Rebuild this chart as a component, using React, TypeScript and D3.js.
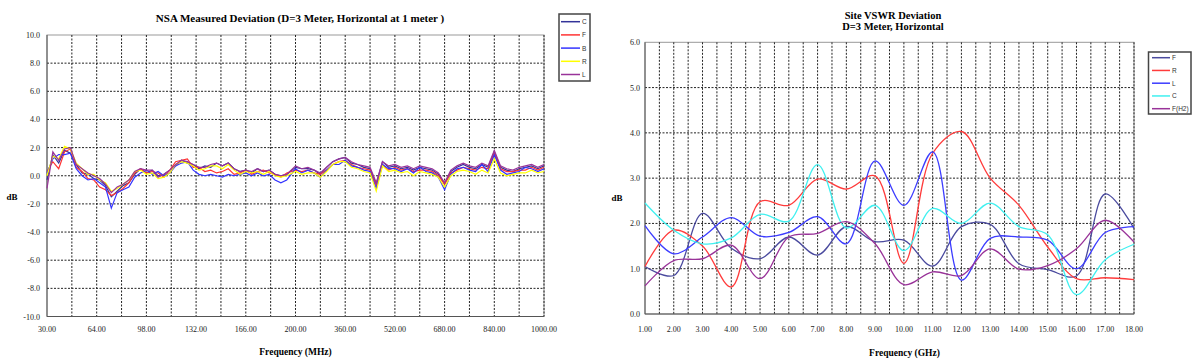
import React from "react";
import * as d3 from "d3";

// ---------- Left chart data (NSA Measured Deviation) ----------
const nsaFreq = [
  30, 34, 38, 42, 46, 50, 54, 58, 62, 66, 70, 74, 78, 82, 86, 90, 94, 98, 102, 106, 110,
  114, 118, 122, 126, 130, 134, 138, 142, 146, 150, 154, 158, 162, 166, 170, 174, 178, 182,
  186, 190, 194,
  200, 220, 240, 260, 280, 300, 320, 340, 360, 380, 400, 420, 440, 460, 480, 500, 520, 540,
  560, 580, 600, 620, 640, 660, 680, 700, 720, 740, 760, 780, 800, 820, 840, 860, 880, 900,
  920, 940, 960, 980, 1000,
];
const nsaC = [
  -0.3, 1.5, 0.9, 1.8, 1.6, 0.8, 0.2, 0.1, -0.2, -0.3, -0.7, -1.5, -1.1, -0.7, -0.5, 0.1, 0.5, 0.2, 0.4, 0.0, 0.1,
  0.4, 0.7, 1.1, 0.9, 0.8, 0.5, 0.7, 0.6, 0.9, 0.7, 0.9, 0.5, 0.3, 0.4, 0.2, 0.5, 0.3, 0.4, 0.1, 0.0, 0.1,
  0.6, 0.5, 0.5, 0.4, 0.1, 0.6, 1.0, 1.2, 1.3, 0.9, 0.8, 0.6, 0.5, -0.6, 1.0, 0.6, 0.7, 0.5, 0.6, 0.4,
  0.6, 0.5, 0.4, 0.1, -0.6, 0.3, 0.6, 0.8, 0.6, 0.5, 0.8, 0.6, 1.7, 0.6, 0.4, 0.3, 0.5, 0.6, 0.7, 0.5, 0.7,
];
const nsaF = [
  0.3, 1.0, 0.5, 1.7, 1.9, 0.6, 0.3, -0.2, -0.3, -0.8, -1.0, -1.4, -1.2, -0.9, -0.5, 0.2, 0.5, 0.2, 0.3, 0.2, -0.1,
  0.4, 1.0, 1.1, 1.2, 0.6, 0.6, 0.3, 0.4, 0.2, 0.3, 0.5, 0.1, 0.2, 0.4, 0.1, 0.3, 0.4, 0.2, 0.1, -0.1, 0.2,
  0.4, 0.3, 0.4, 0.2, 0.1, 0.4, 0.8, 1.0, 1.1, 0.8, 0.6, 0.5, 0.4, -0.7, 0.8, 0.4, 0.6, 0.4, 0.5, 0.3,
  0.4, 0.4, 0.3, 0.0, -0.6, 0.2, 0.4, 0.6, 0.5, 0.4, 0.6, 0.5, 1.6, 0.5, 0.3, 0.3, 0.4, 0.4, 0.6, 0.4, 0.6,
];
const nsaB = [
  0.2, 1.2, 1.5, 1.5, 1.6, 0.5, 0.0, -0.3, -0.2, -0.5, -0.8, -2.3, -1.2, -1.0, -0.8, -0.1, 0.2, 0.4, 0.1, 0.3, 0.0,
  0.2, 0.7, 0.9, 1.0, 0.4, 0.1, 0.0, 0.1, 0.0, -0.1, 0.1, 0.0, 0.1, 0.2, 0.0, 0.2, 0.0, 0.1, -0.3, -0.5, -0.3,
  0.5, 0.2, 0.4, 0.2, -0.1, 0.4, 0.8, 0.8, 1.1, 0.7, 0.6, 0.4, 0.3, -0.9, 0.8, 0.5, 0.5, 0.3, 0.5, 0.2,
  0.6, 0.3, 0.2, -0.1, -1.0, 0.1, 0.5, 0.6, 0.4, 0.3, 0.8, 0.3, 1.5, 0.4, 0.1, 0.2, 0.3, 0.6, 0.5, 0.3, 0.5,
];
const nsaR = [
  0.0, 1.4, 1.2, 2.1, 1.9, 0.9, 0.5, 0.1, 0.1, -0.3, -0.5, -1.1, -0.9, -0.6, -0.3, 0.3, 0.4, 0.1, 0.2, -0.2, -0.1,
  0.2, 0.8, 1.0, 0.9, 0.7, 0.4, 0.5, 0.7, 0.7, 0.5, 0.8, 0.4, 0.1, 0.3, 0.2, 0.3, 0.1, 0.3, 0.0, -0.1, 0.0,
  0.3, 0.1, 0.2, 0.2, -0.1, 0.3, 0.8, 1.0, 1.0, 0.6, 0.5, 0.3, 0.2, -1.1, 0.7, 0.3, 0.4, 0.2, 0.3, 0.0,
  0.3, 0.2, 0.1, -0.1, -0.8, 0.0, 0.3, 0.4, 0.3, 0.1, 0.4, 0.2, 1.2, 0.2, 0.0, 0.1, 0.2, 0.2, 0.4, 0.2, 0.3,
];
const nsaL = [
  -0.9, 1.7, 1.1, 1.9, 2.0, 0.8, 0.5, 0.2, 0.0, -0.2, -0.6, -1.2, -0.8, -0.6, -0.3, 0.3, 0.5, 0.4, 0.4, -0.1, 0.1,
  0.4, 0.8, 1.1, 1.0, 0.8, 0.6, 0.6, 0.8, 0.9, 0.7, 0.9, 0.5, 0.3, 0.4, 0.3, 0.5, 0.3, 0.4, 0.1, 0.0, 0.1,
  0.7, 0.5, 0.6, 0.4, 0.2, 0.6, 1.0, 1.2, 1.3, 1.0, 0.8, 0.7, 0.6, -0.5, 1.0, 0.7, 0.8, 0.6, 0.7, 0.5,
  0.7, 0.6, 0.5, 0.2, -0.5, 0.4, 0.7, 0.9, 0.7, 0.6, 0.9, 0.7, 1.8, 0.7, 0.5, 0.4, 0.6, 0.7, 0.8, 0.6, 0.8,
];
const nsaNames = ["C", "F", "B", "R", "L"];
const nsaColors = ["#333399", "#ff3333", "#3333ff", "#ffff00", "#993399"];
const nsaXTicks = [30, 64, 98, 132, 166, 200, 360, 520, 680, 840, 1000];
const nsaYTicks = [10, 8, 6, 4, 2, 0, -2, -4, -6, -8, -10];

// ---------- Right chart data (Site VSWR Deviation) ----------
const vswrFreq = [1, 2, 3, 4, 5, 6, 7, 8, 9, 10, 11, 12, 13, 14, 15, 16, 17, 18];
const vswrF = [1.05, 0.85, 2.22, 1.45, 1.22, 1.7, 1.3, 1.93, 1.6, 1.63, 1.06, 1.93, 1.98, 1.11, 0.98, 0.84, 2.65, 1.89];
const vswrR = [1.05, 1.85, 1.5, 0.6, 2.48, 2.4, 2.98, 2.76, 3.05, 1.12, 3.55, 4.03, 3.0, 2.4, 1.48, 0.78, 0.8, 0.76];
const vswrL = [1.95, 1.33, 1.7, 2.13, 1.72, 1.8, 2.15, 1.55, 3.38, 2.4, 3.58, 0.75, 1.67, 1.7, 1.63, 1.0, 1.8, 1.93];
const vswrC = [2.45, 1.85, 1.55, 1.68, 2.2, 2.05, 3.3, 1.9, 2.4, 1.4, 2.33, 2.0, 2.45, 1.93, 1.75, 0.43, 1.2, 1.54];
const vswrH2 = [0.62, 1.18, 1.22, 1.52, 0.78, 1.7, 1.78, 2.04, 1.55, 0.65, 0.93, 0.85, 1.44, 0.99, 1.07, 1.44, 2.07, 1.59];
const vswrNames = ["F", "R", "L", "C", "F(H2)"];
const vswrColors = ["#4a4a9e", "#ff3b3b", "#3c3cff", "#40f0f0", "#993399"];
const vswrXTicks = [1, 2, 3, 4, 5, 6, 7, 8, 9, 10, 11, 12, 13, 14, 15, 16, 17, 18];
const vswrYTicks = [6, 5, 4, 3, 2, 1, 0];

const SERIF = "'Liberation Serif', 'Times New Roman', serif";
const SANS = "'Liberation Sans', Arial, sans-serif";
const GRID = { stroke: "#222", strokeWidth: 1, strokeDasharray: "2,1.5" };

function LeftChart() {
  const x0 = 47, x1 = 544, y0 = 35, y1 = 316.5;
  const x = d3.scaleLinear().domain([30, 200, 1000]).range([x0, (x0 + x1) / 2, x1]);
  const y = d3.scaleLinear().domain([-10, 10]).range([y1, y0]);
  const series = [nsaC, nsaF, nsaB, nsaR, nsaL];
  const line = d3
    .line<number>()
    .x((_, i) => x(nsaFreq[i]))
    .y((d) => y(d));
  const mids = nsaXTicks.slice(1).map((t, i) => (nsaXTicks[i] + t) / 2);
  const vLines = [...nsaXTicks.slice(1), ...mids];
  return (
    <g>
      <text x={300} y={22} textAnchor="middle" fontFamily={SERIF} fontWeight="bold" fontSize={11}>
        NSA Measured Deviation (D=3 Meter, Horizontal at 1 meter )
      </text>
      <rect x={x0} y={y0} width={x1 - x0} height={y1 - y0} fill="white" stroke="#999" />
      {vLines.map((v) => (
        <line key={"v" + v} x1={x(v)} x2={x(v)} y1={y0} y2={y1} {...GRID} />
      ))}
      {nsaYTicks
        .filter((t) => t !== 10 && t !== -10)
        .map((t) => (
          <line key={"h" + t} x1={x0} x2={x1} y1={y(t)} y2={y(t)} {...GRID} />
        ))}
      <line x1={x0} x2={x0} y1={y0} y2={y1} stroke="#555" />
      <line x1={x0} x2={x1} y1={y1} y2={y1} stroke="#555" />
      {series.map((s, k) => (
        <path key={k} d={line(s) || ""} fill="none" stroke={nsaColors[k]} strokeWidth={1.2} />
      ))}
      {nsaYTicks.map((t) => (
        <text key={"yt" + t} x={40} y={y(t) + 3} textAnchor="end" fontFamily={SERIF} fontSize={8} fill="#222">
          {t.toFixed(1)}
        </text>
      ))}
      {nsaXTicks.map((t) => (
        <text key={"xt" + t} x={x(t)} y={332} textAnchor="middle" fontFamily={SERIF} fontSize={8} fill="#222">
          {t.toFixed(2)}
        </text>
      ))}
      <text x={12} y={200} textAnchor="middle" fontFamily={SERIF} fontWeight="bold" fontSize={9}>
        dB
      </text>
      <text x={(x0 + x1) / 2} y={355} textAnchor="middle" fontFamily={SERIF} fontWeight="bold" fontSize={9.5}>
        Frequency (MHz)
      </text>
      <rect x={559} y={14} width={31} height={67} fill="white" stroke="#444" strokeWidth={1.5} />
      {nsaNames.map((n, i) => (
        <g key={n}>
          <line x1={561} x2={580} y1={21.7 + i * 13.2} y2={21.7 + i * 13.2} stroke={nsaColors[i]} strokeWidth={1.5} />
          <text x={582} y={24.2 + i * 13.2} fontFamily={SANS} fontSize={6.5} fill="#333">
            {n}
          </text>
        </g>
      ))}
    </g>
  );
}

function RightChart() {
  const x0 = 645, x1 = 1134, y0 = 42.3, y1 = 314;
  const x = d3.scaleLinear().domain([1, 18]).range([x0, x1]);
  const y = d3.scaleLinear().domain([0, 6]).range([y1, y0]);
  const series = [vswrF, vswrR, vswrL, vswrC, vswrH2];
  const line = d3
    .line<number>()
    .x((_, i) => x(vswrFreq[i]))
    .y((d) => y(d))
    .curve(d3.curveCatmullRom.alpha(0.5));
  const vLines = d3.range(1.5, 18.01, 0.5);
  return (
    <g>
      <text x={893} y={19} textAnchor="middle" fontFamily={SERIF} fontWeight="bold" fontSize={10.5}>
        Site VSWR Deviation
      </text>
      <text x={893} y={30} textAnchor="middle" fontFamily={SERIF} fontWeight="bold" fontSize={10.5}>
        D=3 Meter, Horizontal
      </text>
      <rect x={x0} y={y0} width={x1 - x0} height={y1 - y0} fill="white" stroke="#999" />
      {vLines.map((v) => (
        <line key={"v" + v} x1={x(v)} x2={x(v)} y1={y0} y2={y1} {...GRID} />
      ))}
      {vswrYTicks
        .filter((t) => t !== 0 && t !== 6)
        .map((t) => (
          <line key={"h" + t} x1={x0} x2={x1} y1={y(t)} y2={y(t)} {...GRID} />
        ))}
      <line x1={x0} x2={x0} y1={y0} y2={y1} stroke="#555" />
      <line x1={x0} x2={x1} y1={y1} y2={y1} stroke="#555" />
      {series.map((s, k) => (
        <path key={k} d={line(s) || ""} fill="none" stroke={vswrColors[k]} strokeWidth={1.3} />
      ))}
      {vswrYTicks.map((t) => (
        <text key={"yt" + t} x={640} y={y(t) + 3} textAnchor="end" fontFamily={SERIF} fontSize={8} fill="#222">
          {t.toFixed(1)}
        </text>
      ))}
      {vswrXTicks.map((t) => (
        <text key={"xt" + t} x={x(t)} y={332} textAnchor="middle" fontFamily={SERIF} fontSize={8} fill="#222">
          {t.toFixed(2)}
        </text>
      ))}
      <text x={617} y={201} textAnchor="middle" fontFamily={SERIF} fontWeight="bold" fontSize={9}>
        dB
      </text>
      <text x={(x0 + x1) / 2 + 15} y={356} textAnchor="middle" fontFamily={SERIF} fontWeight="bold" fontSize={9.5}>
        Frequency (GHz)
      </text>
      <rect x={1148.5} y={52} width={42.5} height={62} fill="white" stroke="#444" strokeWidth={1.5} />
      {vswrNames.map((n, i) => (
        <g key={n}>
          <line x1={1152} x2={1170} y1={57.7 + i * 12.75} y2={57.7 + i * 12.75} stroke={vswrColors[i]} strokeWidth={1.5} />
          <text x={1172} y={60 + i * 12.75} fontFamily={SANS} fontSize={6.5} fill="#333">
            {n}
          </text>
        </g>
      ))}
    </g>
  );
}

export default function App() {
  return (
    <svg
      width={1200}
      height={361}
      style={{ position: "absolute", left: 0, top: 0, background: "white" }}
    >
      <rect x={0} y={0} width={1200} height={361} fill="white" />
      <LeftChart />
      <RightChart />
    </svg>
  );
}
